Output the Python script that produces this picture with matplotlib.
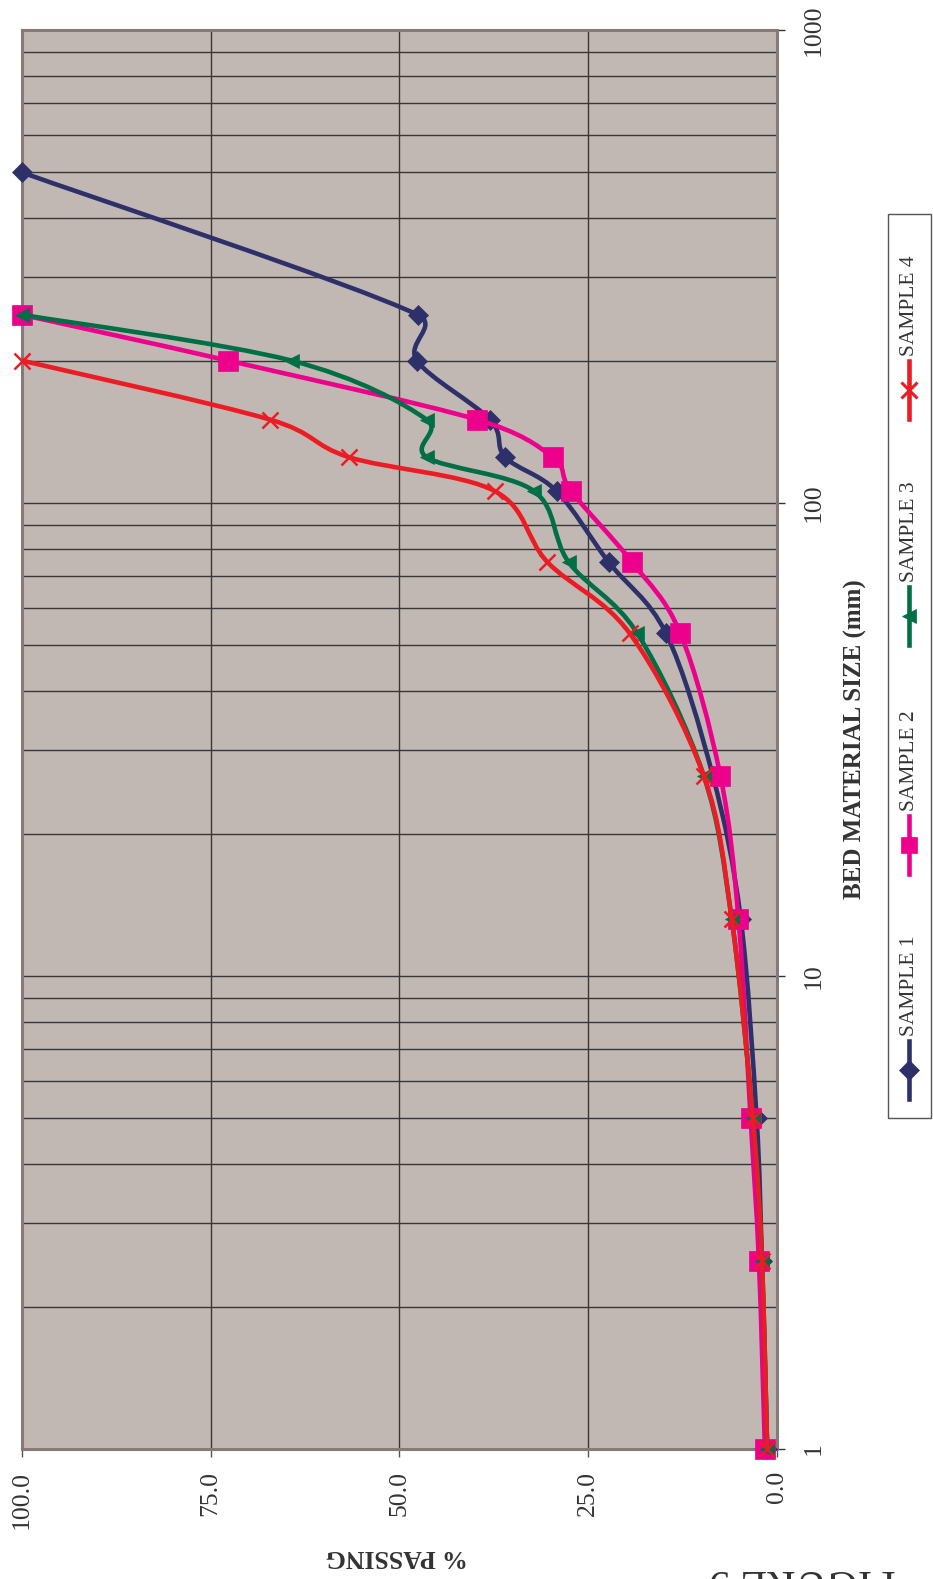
import numpy as np
import matplotlib
matplotlib.use("Agg")
import matplotlib.pyplot as plt
from matplotlib.path import Path
from matplotlib.patches import PathPatch, Rectangle
from matplotlib.lines import Line2D

plt.rcParams["font.family"] = ["Liberation Serif", "DejaVu Serif"]

# sieve sizes (mm) and cumulative % passing per sample
sizes = [1, 2.5, 5, 13.2, 26.5, 53, 75, 106, 125, 150, 200, 250, 500]
sample1 = [1.3, 2.0, 2.7, 4.8, 8.5, 14.7, 22.3, 29.2, 36.0, 38.0, 47.7, 47.6, 100.0]
sample2 = [1.6, 2.4, 3.5, 5.1, 7.5, 12.8, 19.2, 27.3, 29.7, 39.7, 72.7, 100.0]
sample3 = [1.3, 2.0, 3.2, 6.0, 9.7, 18.5, 27.6, 32.2, 46.4, 46.4, 64.3, 100.0]
sample4 = [1.3, 2.0, 3.2, 6.0, 9.7, 19.5, 30.4, 37.4, 56.7, 67.1, 100.0]

names = ["SAMPLE 1", "SAMPLE 2", "SAMPLE 3", "SAMPLE 4"]
series = [sample1, sample2, sample3, sample4]
colors = ["#2E3169", "#EC008C", "#006F45", "#EC1C24"]
markers = ["D", "s", "<", "x"]
msizes = [10, 14, 10.5, 11]

pass_ticks = [0, 25, 50, 75, 100]
size_ticks = [1, 10, 100, 1000]

W, H = 933, 1579
fig = plt.figure(figsize=(W / 100, H / 100), dpi=100)
ax = fig.add_axes([22 / W, 1 - 1449 / H, 755 / W, 1419 / H])

ax.set_facecolor("#C1B8B4")
ax.set_xlim(100, 0)
ax.set_yscale("log")
ax.set_ylim(1, 1000)

ax.set_axisbelow(True)
ax.grid(True, which="major", axis="x", color="#3A3636", lw=1.0)
ax.grid(True, which="both", axis="y", color="#3A3636", lw=1.0)
for s in ax.spines.values():
    s.set_color("#857A77")
    s.set_linewidth(2.2)

ax.set_xticks(pass_ticks)
ax.set_xticklabels([f"{v:.1f}" for v in pass_ticks], rotation=90)
ax.yaxis.tick_right()
ax.set_yticks(size_ticks)
ax.set_yticklabels([str(v) for v in size_ticks], rotation=90, va="center")
ax.tick_params(axis="x", direction="out", length=5.5, width=1, color="#555",
               pad=10, labelsize=18.5, labelcolor="#333")
ax.tick_params(axis="y", which="major", direction="out", length=5.8, width=1,
               color="#333", pad=13, labelsize=18.5, labelcolor="#333")
ax.tick_params(axis="y", which="minor", length=0)


def smooth_path(xs, ys):
    # bezier through the points, control points set in display space
    pts = ax.transData.transform(np.column_stack([xs, ys]))
    n = len(pts)
    verts = [pts[0]]
    codes = [Path.MOVETO]
    for i in range(n - 1):
        p0 = pts[max(i - 1, 0)]
        p1 = pts[i]
        p2 = pts[i + 1]
        p3 = pts[min(i + 2, n - 1)]
        seg = np.hypot(*(p2 - p1))
        o1 = (p2 - p0) / 6
        o2 = (p3 - p1) / 6
        for o in (o1, o2):
            L = np.hypot(*o)
            if L > 0.55 * seg:
                o *= 0.55 * seg / L
        verts += [p1 + o1, p2 - o2, p2]
        codes += [Path.CURVE4] * 3
    data = ax.transData.inverted().transform(np.array(verts))
    return Path(data, codes)


for k, (vals, c, m, ms) in enumerate(zip(series, colors, markers, msizes)):
    yv = sizes[:len(vals)]
    patch = PathPatch(smooth_path(vals, yv), facecolor="none", edgecolor=c,
                      lw=3.3, transform=ax.transData, zorder=3 + k,
                      capstyle="round", joinstyle="round")
    ax.add_patch(patch)
    mew = 1.8 if m == "x" else 0.5
    ax.plot(vals, yv, linestyle="none", marker=m, ms=ms, color=c, mfc=c,
            mec=c, mew=mew, zorder=3 + k, clip_on=False)

# axis titles
fig.text(855 / W, 1 - 739 / H, "BED MATERIAL SIZE (mm)", rotation=90,
         ha="center", va="center", fontsize=18, fontweight="bold", color="#333")
fig.text(397 / W, 1 - 1556 / H, "% PASSING", rotation=180,
         ha="center", va="center", fontsize=18.5, fontweight="bold", color="#333")
fig.text(802 / W, 1 - 1570 / H, "FIGURE 9", rotation=180, rotation_mode="anchor",
         ha="center", va="baseline", fontsize=31, color="#333")

# legend box, entries read bottom to top
fig.patches.append(Rectangle((888 / W, 1 - 1118 / H), 43 / W, 904 / H,
                             transform=fig.transFigure, facecolor="white",
                             edgecolor="#555", lw=1.0))
entry_y = [1070, 845, 616, 390]
for name, c, m, ms, yc in zip(names, colors, markers, msizes, entry_y):
    lx = 909 / W
    ys = [1 - (yc + 29) / H, 1 - yc / H, 1 - (yc - 29) / H]
    fig.lines.append(Line2D([lx] * 3, ys, transform=fig.transFigure, color=c,
                            lw=3.3, marker=m, ms=min(ms, 11), mfc=c, mec=c,
                            mew=2.2 if m == "x" else 0.5, markevery=[1]))
    fig.text(lx, 1 - (yc - 34) / H, name, rotation=90, rotation_mode="anchor",
             ha="left", va="center", fontsize=15.5, color="#333")

fig.savefig("out.png", dpi=100)
